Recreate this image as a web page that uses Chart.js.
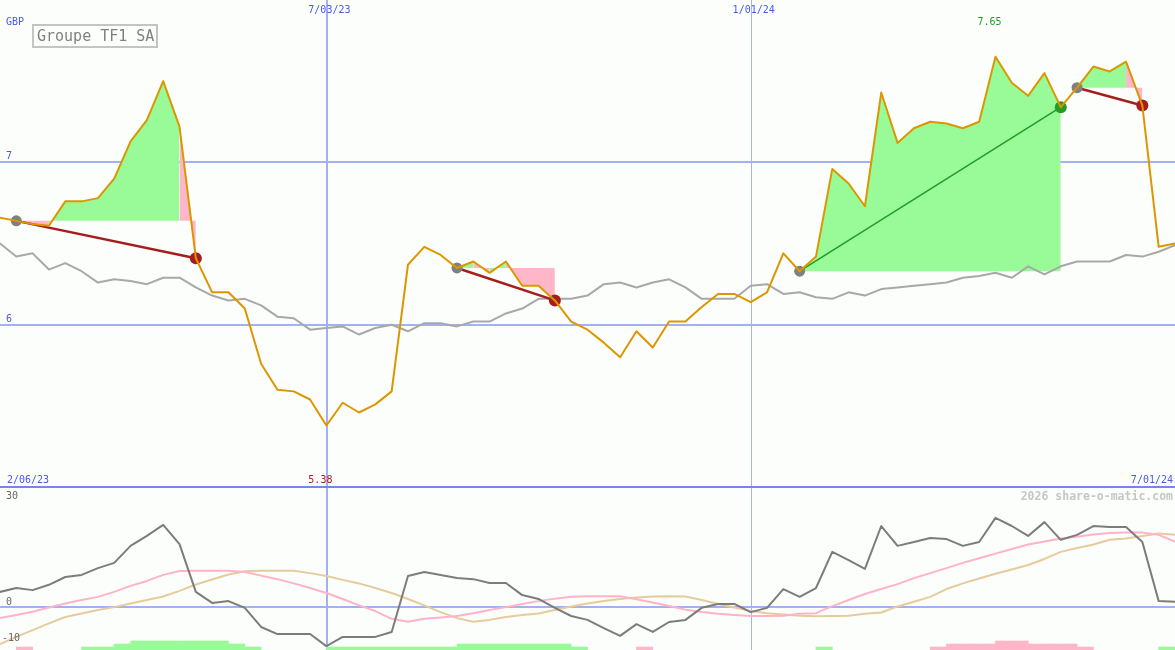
<!DOCTYPE html>
<html>
<head>
<meta charset="utf-8">
<title>Groupe TF1 SA</title>
<script src="https://cdn.jsdelivr.net/npm/chart.js@4"></script>
<style>
  body { margin: 0; background: #fcfefc; }
  #wrap { position: relative; width: 1175px; height: 650px; }
  canvas { position: absolute; left: 0; }
</style>
</head>
<body>
<div id="wrap">
  <canvas id="top" width="1175" height="488" style="top:0"></canvas>
  <canvas id="bottom" width="1175" height="162" style="top:488px"></canvas>
</div>
<script>
// weekly closes, GBP
const price = [
  6.66, 6.64, 6.62, 6.61, 6.76, 6.76, 6.78, 6.90, 7.13, 7.26,
  7.50, 7.22, 6.41, 6.20, 6.20, 6.10, 5.76, 5.60, 5.59, 5.54,
  5.38, 5.52, 5.46, 5.51, 5.59, 6.37, 6.48, 6.43, 6.35, 6.39,
  6.32, 6.39, 6.24, 6.24, 6.15, 6.02, 5.97, 5.89, 5.80, 5.96,
  5.86, 6.02, 6.02, 6.11, 6.19, 6.19, 6.14, 6.20, 6.44, 6.33,
  6.42, 6.96, 6.87, 6.73, 7.43, 7.12, 7.21, 7.25, 7.24, 7.21,
  7.25, 7.65, 7.49, 7.41, 7.55, 7.34, 7.46, 7.59, 7.56, 7.62,
  7.35, 6.48, 6.50
];
// slow average (grey line)
const average = [
  6.50, 6.42, 6.44, 6.34, 6.38, 6.33, 6.26, 6.28, 6.27, 6.25,
  6.29, 6.29, 6.23, 6.18, 6.15, 6.16, 6.12, 6.05, 6.04, 5.97,
  5.98, 5.99, 5.94, 5.98, 6.00, 5.96, 6.01, 6.01, 5.99, 6.02,
  6.02, 6.07, 6.10, 6.16, 6.16, 6.16, 6.18, 6.25, 6.26, 6.23,
  6.26, 6.28, 6.23, 6.16, 6.16, 6.16, 6.24, 6.25, 6.19, 6.20,
  6.17, 6.16, 6.20, 6.18, 6.22, 6.23, 6.24, 6.25, 6.26, 6.29,
  6.30, 6.32, 6.29, 6.36, 6.31, 6.36, 6.39, 6.39, 6.39, 6.43,
  6.42, 6.45, 6.49
];
// lower panel
const momentum = [
  4.4, 5.5, 4.9, 6.4, 8.6, 9.2, 11.1, 12.6, 17.4, 20.2,
  23.3, 17.9, 4.4, 1.3, 1.8, -0.1, -5.5, -7.5, -7.5, -7.5,
  -10.9, -8.3, -8.3, -8.3, -6.9, 8.9, 10.0, 9.2, 8.3, 8.0,
  6.9, 6.9, 3.5, 2.4, -0.1, -2.4, -3.5, -5.8, -8.0, -4.7,
  -6.9, -4.1, -3.5, -0.1, 1.0, 1.0, -1.3, -0.1, 5.2, 3.0,
  5.5, 15.7, 13.4, 10.9, 23.0, 17.4, 18.5, 19.6, 19.3, 17.4,
  18.5, 25.3, 23.0, 20.2, 24.1, 19.1, 20.5, 23.0, 22.7, 22.7,
  18.5, 1.8, 1.6
];
const fastSignal = [
  -3.0, -2.1, -1.2, 0, 1.1, 2.1, 3.0, 4.4, 6.1, 7.5,
  9.2, 10.3, 10.4, 10.4, 10.4, 10.0, 9.0, 8.0, 6.8, 5.5,
  4.1, 2.4, 0.6, -1.0, -3.2, -4.0, -3.2, -2.8, -2.4, -1.6,
  -0.7, 0.1, 1.0, 1.8, 2.5, 3.0, 3.2, 3.2, 3.2, 2.3,
  1.4, 0.4, -0.6, -1.3, -1.8, -2.1, -2.4, -2.4, -2.3, -1.8,
  -1.6, 0.4, 2.1, 3.8, 5.2, 6.6, 8.3, 9.7, 11.1, 12.6,
  13.9, 15.2, 16.5, 17.8, 18.6, 19.5, 20.0, 20.6, 21.0, 21.2,
  21.2, 20.5, 18.6
];
const slowSignal = [
  -10.3, -8.3, -6.4, -4.5, -2.7, -1.7, -0.7, 0.1, 1.1, 2.1,
  3.1, 4.7, 6.5, 7.9, 9.3, 10.2, 10.4, 10.4, 10.4, 9.7,
  8.9, 7.8, 6.8, 5.5, 4.1, 2.4, 0.6, -1.3, -3.0, -4.0,
  -3.5, -2.7, -2.1, -1.7, -0.7, 0.3, 1.1, 1.8, 2.4, 2.8,
  3.1, 3.2, 3.1, 2.1, 1.0, 0, -1.0, -1.6, -2.0, -2.3,
  -2.5, -2.4, -2.3, -1.8, -1.4, 0.3, 1.6, 3.0, 5.2, 6.8,
  8.2, 9.5, 10.7, 12.0, 13.7, 15.7, 16.8, 17.8, 19.1, 19.5,
  20.2, 20.9, 20.5
];
// strength blocks per week (positive green, negative pink)
const histLevels = [
  0, -1, 0, 0, 0, 1, 1, 2, 3, 3,
  3, 3, 3, 3, 2, 1, 0, 0, 0, 0,
  1, 1, 1, 1, 1, 1, 1, 1, 2, 2,
  2, 2, 2, 2, 2, 1, 0, 0, 0, -1,
  0, 0, 0, 0, 0, 0, 0, 0, 0, 0,
  1, 0, 0, 0, 0, 0, 0, -1, -2, -2,
  -2, -3, -3, -2, -2, -2, -1, 0, 0, 0,
  0, 1
];
// trades (week index)
const tradeEntry = [1, 28, 49, 66];
const tradeExit = [12, 34, 65, 70];

const dateTicks = [20, 46];
const dateTickText = ['7/03/23', '1/01/24'];
const firstDate = '2/06/23';
const lastDate = '7/01/24';
const priceGrid = [6, 7];
const oscLabels = [30, 0, -10];
const title = 'Groupe TF1 SA';

const GRID_BLUE = '#a3b0f3';
const FRAME_BLUE = '#7884ea';
const TEXT_BLUE = '#4a58e4';
const GREEN_FILL = '#98fb98';
const PINK_FILL = '#ffb6c8';
const RED = '#a51e1e';
const GREEN = '#249b24';
const SMALL = '10px "DejaVu Sans Mono"';

const lastIdx = price.length - 1;
const pts = arr => arr.map((v, i) => ({x: i, y: v}));

function lineSet(data, color, width, order) {
  return {type: 'line', data: data, borderColor: color, borderWidth: width,
    pointRadius: 0, tension: 0, fill: false, order: order};
}

function drawVerticals(ctx, x, h) {
  ctx.fillStyle = GRID_BLUE;
  ctx.fillRect(Math.round(x.getPixelForValue(dateTicks[0])), 0, 2, h);
  ctx.fillStyle = '#aab2e2';
  ctx.fillRect(Math.round(x.getPixelForValue(dateTicks[1])), 0, 1, h);
}

const base = {
  responsive: false, animation: false, devicePixelRatio: 1, events: [],
  layout: {padding: 0, autoPadding: false},
  plugins: {legend: {display: false}, tooltip: {enabled: false}},
  elements: {line: {borderJoinStyle: 'round', borderCapStyle: 'round'}}
};

// ---------- top panel ----------
const fillSets = tradeEntry.map((e, k) => {
  const level = price[e];
  return {
    type: 'line',
    data: price.slice(e, tradeExit[k] + 1).map((v, j) => ({x: e + j, y: v})),
    borderWidth: 0, borderColor: 'rgba(0,0,0,0)', pointRadius: 0, tension: 0,
    backgroundColor: GREEN_FILL,
    fill: {value: level},
    segment: {backgroundColor: c => c.p1.parsed.y >= level ? GREEN_FILL : PINK_FILL},
    order: 6
  };
});

const tradeSets = tradeEntry.map((e, k) => {
  const x2 = tradeExit[k];
  const win = price[x2] > price[e];
  return lineSet([{x: e, y: price[e]}, {x: x2, y: price[x2]}], win ? GREEN : RED, win ? 1.5 : 2.5, 3);
});

const entryDots = {
  type: 'line', showLine: false, order: 2,
  data: tradeEntry.map(e => ({x: e, y: price[e]})),
  pointRadius: 5.5, pointBorderWidth: 0, pointBackgroundColor: '#808080'
};
const exitDots = {
  type: 'line', showLine: false, order: 2,
  data: tradeExit.map(e => ({x: e, y: price[e]})),
  pointRadius: 6, pointBorderWidth: 0,
  pointBackgroundColor: tradeExit.map((e, k) => price[e] > price[tradeEntry[k]] ? GREEN : RED)
};

const topDecor = {
  id: 'topDecor',
  beforeDatasetsDraw(chart) {
    const {ctx, width, height, scales: {x, y}} = chart;
    ctx.save();
    drawVerticals(ctx, x, height);
    ctx.fillStyle = GRID_BLUE;
    priceGrid.forEach(v => ctx.fillRect(0, Math.round(y.getPixelForValue(v)) - 1, width, 2));
    ctx.restore();
  },
  afterDraw(chart) {
    const {ctx, width, height, scales: {x, y}} = chart;
    ctx.save();
    ctx.fillStyle = FRAME_BLUE;
    ctx.fillRect(0, height - 2, width, 2);

    ctx.font = SMALL;
    ctx.fillStyle = TEXT_BLUE;
    ctx.textAlign = 'left';
    ctx.fillText('GBP', 6, 25);
    priceGrid.forEach(v => ctx.fillText(String(v), 6, Math.round(y.getPixelForValue(v)) - 3));
    ctx.fillText(firstDate, 7, height - 5);
    ctx.textAlign = 'right';
    ctx.fillText(lastDate, width - 2, height - 5);
    ctx.textAlign = 'center';
    dateTicks.forEach((d, k) => ctx.fillText(dateTickText[k], x.getPixelForValue(d) + 3, 13));

    const hi = Math.max(...price), lo = Math.min(...price);
    ctx.fillStyle = GREEN;
    ctx.fillText(hi.toFixed(2), x.getPixelForValue(price.indexOf(hi)) - 6, 25);
    ctx.fillStyle = RED;
    ctx.fillText(lo.toFixed(2), x.getPixelForValue(price.indexOf(lo)) - 6, height - 5);

    ctx.strokeStyle = '#c4c4c4';
    ctx.lineWidth = 2;
    ctx.strokeRect(33, 25, 124, 22);
    ctx.fillStyle = '#808080';
    ctx.font = '15px "DejaVu Sans Mono"';
    ctx.textAlign = 'left';
    ctx.fillText(title, 37, 41);
    ctx.restore();
  }
};

new Chart(document.getElementById('top'), {
  type: 'line',
  data: {datasets: [
    lineSet(pts(price), '#dc9600', 2, 0),
    entryDots, exitDots,
    ...tradeSets,
    lineSet(pts(average), '#a8a8a8', 2, 4),
    ...fillSets
  ]},
  options: Object.assign({}, base, {
    scales: {
      x: {type: 'linear', min: 0, max: lastIdx, display: false},
      y: {min: 4.995, max: 8.0, display: false}
    }
  }),
  plugins: [topDecor]
});

// ---------- bottom panel ----------
const histData = [], histColors = [];
histLevels.forEach((v, i) => {
  if (v !== 0) {
    histData.push({x: i + 0.5, y: Math.abs(v)});
    histColors.push(v > 0 ? GREEN_FILL : PINK_FILL);
  }
});

const bottomDecor = {
  id: 'bottomDecor',
  beforeDatasetsDraw(chart) {
    const {ctx, width, height, scales: {x, y}} = chart;
    ctx.save();
    drawVerticals(ctx, x, height);
    ctx.fillStyle = GRID_BLUE;
    ctx.fillRect(0, Math.round(y.getPixelForValue(0)) - 1, width, 2);
    ctx.restore();
  },
  afterDraw(chart) {
    const {ctx, width, height, scales: {y}} = chart;
    ctx.save();
    ctx.font = SMALL;
    ctx.fillStyle = '#666666';
    ctx.textAlign = 'left';
    oscLabels.forEach(v => {
      const py = Math.min(Math.round(y.getPixelForValue(v)) - 2, height - 4);
      ctx.fillText(String(v), v < 0 ? 2 : 6, py);
    });
    ctx.font = 'bold 11.5px "DejaVu Sans Mono"';
    ctx.fillStyle = '#c6c6c6';
    ctx.textAlign = 'right';
    ctx.fillText('2026 share-o-matic.com', width - 2, 12);
    ctx.restore();
  }
};

new Chart(document.getElementById('bottom'), {
  type: 'line',
  data: {datasets: [
    lineSet(pts(momentum), '#7c7c7c', 2, 0),
    lineSet(pts(fastSignal), '#ffb2c8', 2, 1),
    lineSet(pts(slowSignal), '#e6cb9c', 2, 2),
    {type: 'bar', yAxisID: 'yh', data: histData, backgroundColor: histColors,
      borderWidth: 0, barPercentage: 1, categoryPercentage: 1, order: 5}
  ]},
  options: Object.assign({}, base, {
    scales: {
      x: {type: 'linear', min: 0, max: lastIdx, display: false, offset: false},
      y: {min: -12, max: 33.73, display: false},
      yh: {min: 0, max: 54, display: false}
    }
  }),
  plugins: [bottomDecor]
});
</script>
</body>
</html>
